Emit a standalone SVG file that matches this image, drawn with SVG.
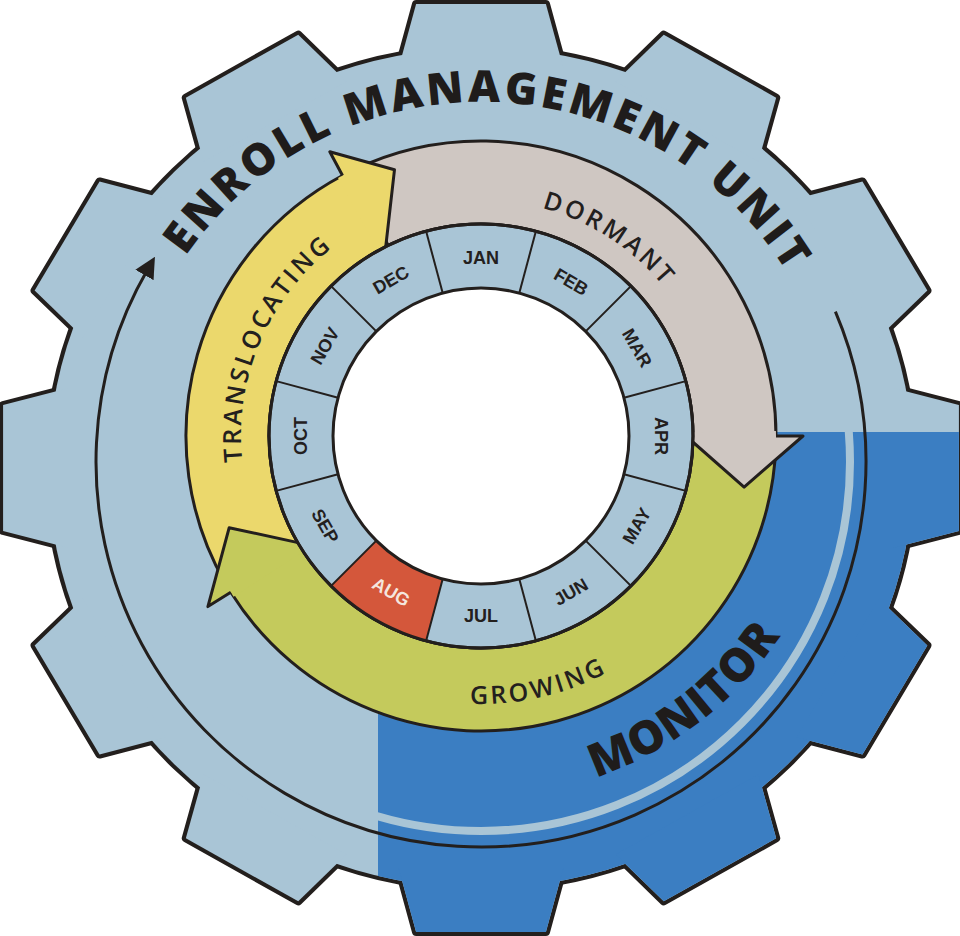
<svg xmlns="http://www.w3.org/2000/svg" xmlns:xlink="http://www.w3.org/1999/xlink" width="960" height="936" viewBox="0 0 960 936">
<defs>
<style>
.m{font-family:"Liberation Sans",Arial,sans-serif;font-weight:bold;font-size:18px;fill:#23201e;text-anchor:middle;dominant-baseline:central}
.band{font-family:"Open Sans","Liberation Sans",sans-serif;font-weight:600;font-size:25px;fill:#23201e;letter-spacing:3px}
.big{font-family:"Open Sans","Liberation Sans",Arial,sans-serif;font-weight:800;fill:#1f1c1b}
.edge{fill:none;stroke:#231f1d;stroke-width:3;stroke-linejoin:round}
</style>
<polygon id="tooth" points="-80,-400 -63,-464 63,-464 80,-400"/>
<g id="gearshape">
<circle r="420"/>
<use xlink:href="#tooth"/><use xlink:href="#tooth" transform="rotate(30)"/><use xlink:href="#tooth" transform="rotate(60)"/><use xlink:href="#tooth" transform="rotate(90)"/><use xlink:href="#tooth" transform="rotate(120)"/><use xlink:href="#tooth" transform="rotate(150)"/><use xlink:href="#tooth" transform="rotate(180)"/><use xlink:href="#tooth" transform="rotate(210)"/><use xlink:href="#tooth" transform="rotate(240)"/><use xlink:href="#tooth" transform="rotate(270)"/><use xlink:href="#tooth" transform="rotate(300)"/><use xlink:href="#tooth" transform="rotate(330)"/>
</g>
<clipPath id="blueclip"><rect x="378" y="432" width="582" height="504"/></clipPath>
<marker id="arr" viewBox="0 0 10 10" refX="3" refY="5" markerWidth="7" markerHeight="7" orient="auto" markerUnits="strokeWidth"><path d="M0,0 L10,5 L0,10 Z" fill="#231f1d"/></marker>
<path id="pEnroll" d="M182.5,260.7 A360,360 0 0 1 789.6,276.6"/>
<path id="pDorm" d="M452.2,201.8 A236,236 0 0 1 706.7,367"/>
<path id="pTrans" d="M258.5,525.9 A240,240 0 0 1 391.1,213.5"/>
<path id="pGrow" d="M380.6,684.5 A268,268 0 0 0 680.2,615.3"/>
<path id="pMon" d="M481,796 A360,360 0 0 0 828.7,529.2"/>
</defs>

<g id="gear">
<g transform="translate(481 468) scale(1.03 1)">
<use xlink:href="#gearshape" fill="#231f1d" stroke="#231f1d" stroke-width="8" stroke-linejoin="round"/>
<use xlink:href="#gearshape" fill="#a9c5d6"/>
</g>
<g clip-path="url(#blueclip)">
<g transform="translate(481 468) scale(1.03 1)"><use xlink:href="#gearshape" fill="#3b7ec2"/></g>
<circle cx="481" cy="462" r="369" fill="none" stroke="#a9c5d6" stroke-width="8"/>
</g>
</g>

<g id="connectors">
<path d="M835.4,311.6 A385,385 0 1 1 147.6,269.5" fill="none" stroke="#231f1d" stroke-width="3" marker-end="url(#arr)"/>
</g>

<g id="enroll-label">
<text class="big" font-size="44"><textPath xlink:href="#pEnroll" startOffset="50%" text-anchor="middle" textLength="712" lengthAdjust="spacing">ENROLL MANAGEMENT UNIT</textPath></text>
</g>
<g id="monitor-label">
<text class="big" font-size="46" letter-spacing="1"><textPath xlink:href="#pMon" startOffset="50%" text-anchor="middle">MONITOR</textPath></text>
</g>

<g id="dormant">
<path d="M351.7,170.9 A295,295 0 0 1 776,436 L693,436 A212,212 0 0 0 388.1,245.5 Z" class="edge" style="fill:#cfc7c2"/>
</g>
<g id="growing">
<path d="M775.8,446.3 A295,295 0 0 1 230.8,592.3 L301.2,548.3 A212,212 0 0 0 692.9,443.4 Z" class="edge" style="fill:#c4ca5c"/>
</g>
<g id="translocating">
<path d="M225.5,583.5 A295,295 0 0 1 342.5,175.5 L381.5,248.8 A212,212 0 0 0 297.4,542 Z" class="edge" style="fill:#ebd86c"/>
</g>
<g id="heads">
<polygon points="693,432.3 775.9,430.9 776,436 803,436 744.1,487.1 686,436" fill="#cfc7c2"/>
<polyline points="776,436 803,436 744.1,487.1 686,436" class="edge"/>
<polygon points="303.2,551.5 233.6,596.7 230.8,592.3 207.9,606.6 229.2,527.7 307.2,544.6" fill="#c4ca5c"/>
<polyline points="230.8,592.3 207.9,606.6 229.2,527.7 307.2,544.6" class="edge"/>
<polygon points="378.2,250.6 338,178 342.5,175.5 329.8,151.7 394.5,169.7 384.8,255" fill="#ebd86c"/>
<polyline points="342.5,175.5 329.8,151.7 394.5,169.7 384.8,255" class="edge"/>
</g>
<g id="band-labels">
<text class="band"><textPath xlink:href="#pDorm" startOffset="50%" text-anchor="middle">DORMANT</textPath></text>
<text class="band"><textPath xlink:href="#pTrans" startOffset="50%" text-anchor="middle">TRANSLOCATING</textPath></text>
<text class="band"><textPath xlink:href="#pGrow" startOffset="50%" text-anchor="middle">GROWING</textPath></text>
</g>

<g id="months">
<circle cx="481" cy="436" r="212" fill="#a9c5d6" stroke="#231f1d" stroke-width="3"/>
<path d="M426.1,640.8 A212,212 0 0 1 331.1,585.9 L376.3,540.7 A148,148 0 0 0 442.7,579 Z" fill="#d4573b"/>
<circle cx="481" cy="436" r="212" fill="none" stroke="#231f1d" stroke-width="3"/>
<circle cx="481" cy="436" r="148" fill="#ffffff" stroke="#231f1d" stroke-width="3"/>
<g stroke="#231f1d" stroke-width="2">
<line x1="629" y1="436" x2="693" y2="436" transform="rotate(15 481 436)"/>
<line x1="629" y1="436" x2="693" y2="436" transform="rotate(45 481 436)"/>
<line x1="629" y1="436" x2="693" y2="436" transform="rotate(75 481 436)"/>
<line x1="629" y1="436" x2="693" y2="436" transform="rotate(105 481 436)"/>
<line x1="629" y1="436" x2="693" y2="436" transform="rotate(135 481 436)"/>
<line x1="629" y1="436" x2="693" y2="436" transform="rotate(165 481 436)"/>
<line x1="629" y1="436" x2="693" y2="436" transform="rotate(195 481 436)"/>
<line x1="629" y1="436" x2="693" y2="436" transform="rotate(225 481 436)"/>
<line x1="629" y1="436" x2="693" y2="436" transform="rotate(255 481 436)"/>
<line x1="629" y1="436" x2="693" y2="436" transform="rotate(285 481 436)"/>
<line x1="629" y1="436" x2="693" y2="436" transform="rotate(315 481 436)"/>
<line x1="629" y1="436" x2="693" y2="436" transform="rotate(345 481 436)"/>
</g>
<text class="m" transform="translate(481 258)">JAN</text>
<text class="m" transform="translate(571 282) rotate(30)">FEB</text>
<text class="m" transform="translate(637 348) rotate(60)">MAR</text>
<text class="m" transform="translate(661 436) rotate(90)">APR</text>
<text class="m" transform="translate(637 526) rotate(-60)">MAY</text>
<text class="m" transform="translate(571 592) rotate(-30)">JUN</text>
<text class="m" transform="translate(481 616)">JUL</text>
<text class="m" transform="translate(391 592) rotate(30)" style="fill:#f4e6de">AUG</text>
<text class="m" transform="translate(325 526) rotate(60)">SEP</text>
<text class="m" transform="translate(301 436) rotate(-90)">OCT</text>
<text class="m" transform="translate(325 346) rotate(-60)">NOV</text>
<text class="m" transform="translate(391 280) rotate(-30)">DEC</text>
</g>
</svg>
